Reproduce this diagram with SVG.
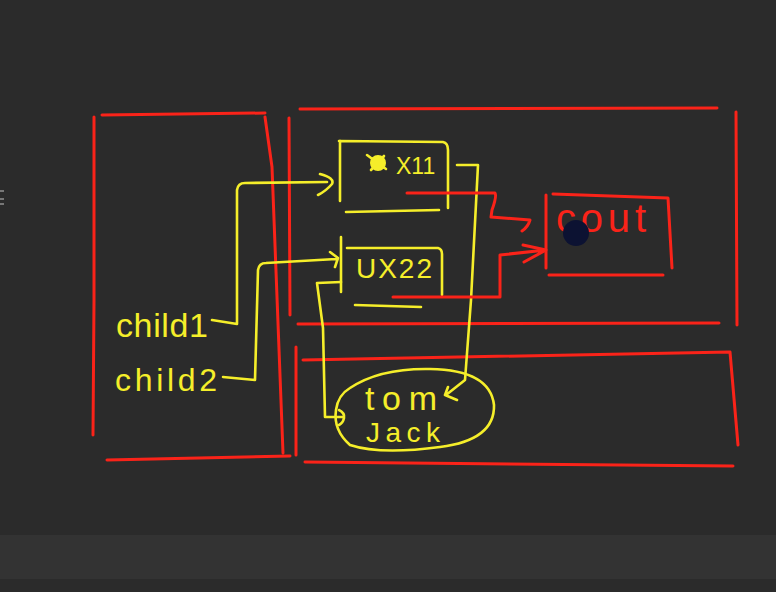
<svg xmlns="http://www.w3.org/2000/svg" width="776" height="592" viewBox="0 0 776 592">
<style>
.r{fill:none;stroke:#fa2319;stroke-width:3;stroke-linecap:round;stroke-linejoin:round}
.y{fill:none;stroke:#f5ee2a;stroke-width:2.6;stroke-linecap:round;stroke-linejoin:round}
.ty{fill:#f5ee2a;font-family:"Liberation Sans",Arial,sans-serif}
.tr{fill:#fa2319;font-family:"Liberation Sans",Arial,sans-serif}
</style>
<rect width="776" height="592" fill="#2b2b2b"/>
<rect x="0" y="535" width="776" height="44" fill="#333333"/>
<rect x="0" y="190" width="4" height="2" fill="#777"/>
<rect x="0" y="198" width="4" height="2" fill="#777"/>
<rect x="0" y="203" width="4" height="2" fill="#777"/>

<g id="left-frame">
<path class="r" d="M102 115 L265 113 M94 117 L94 300 L93 435 M265 117 L272 167 L283 453 M107 460 L290 456"/>
</g>
<g id="top-frame">
<path class="r" d="M300 109 L717 108 M736 112 L737 325 M298 324 L719 323 M289 118 L290 315"/>
</g>
<g id="bottom-frame">
<path class="r" d="M303 360 L730 352 L738 445 M305 462 L733 466 M296 347 L296 455"/>
</g>
<g id="box-0x11">
<path class="y" d="M339 141 L443 142 Q448 143 448 150 L448 208 M340 141 L340 201 M346 212 L439 210"/>
<circle cx="378" cy="163" r="8" fill="#f5ee2a"/>
<path class="y" d="M367 155 L386 169 M371 170 L384 156"/>
<text class="ty" x="396" y="174" font-size="23">X11</text>
</g>
<g id="box-0x22">
<path class="y" d="M347 248 L438 248 Q442 249 442 254 L442 295 M341 237 L341 292 M355 305 L421 307"/>
<text class="ty" x="356" y="278" font-size="28" textLength="76">UX22</text>
</g>
<g id="box-cout">
<path class="r" d="M546 195 L546 268 M553 194 L668 198 L672 268 M549 275 L663 275"/>
<text class="tr" x="556" y="232" font-size="40" textLength="90">cout</text>
<circle cx="576" cy="233" r="13" fill="#0c1232"/>
</g>
<g id="labels">
<text class="ty" x="116" y="337" font-size="34" textLength="92">child1</text>
<text class="ty" x="115" y="391" font-size="32" textLength="102">child2</text>
</g>
<g id="node-tom-jack">
<path class="y" d="M350 388 Q380 368 430 369 Q490 370 494 405 Q495 440 440 447 Q380 455 350 445 Q333 430 336 410 Q338 395 350 388 Z"/>
<text class="ty" x="365" y="410" font-size="34" textLength="72">tom</text>
<text class="ty" x="366" y="442" font-size="28" textLength="74">Jack</text>
</g>
<g id="connectors">
<path class="y" d="M212 320 L237 324 L237 190 Q238 183 245 183 L327 182 M320 174 Q335 178 332 184 Q326 191 318 195"/>
<path class="y" d="M223 377 L255 380 L258 270 Q259 263 266 263 L336 259 M330 252 L338 258 L335 267"/>
<path class="y" d="M457 165 L478 165 L471 300 L465 380 L446 395 M448 387 L445 395 L457 400"/>
<path class="y" d="M341 282 L317 283 L323 328 L325 417 L342 417 M339 410 Q345 413 344 418 Q343 423 339 425"/>
<path class="r" d="M407 193 L495 193 Q497 196 492 210 L491 217 L530 220 Q528 227 522 231"/>
<path class="r" d="M393 297 L500 297 L500 255 L546 250 M523 245 L546 250 L524 262"/>
</g>
</svg>
